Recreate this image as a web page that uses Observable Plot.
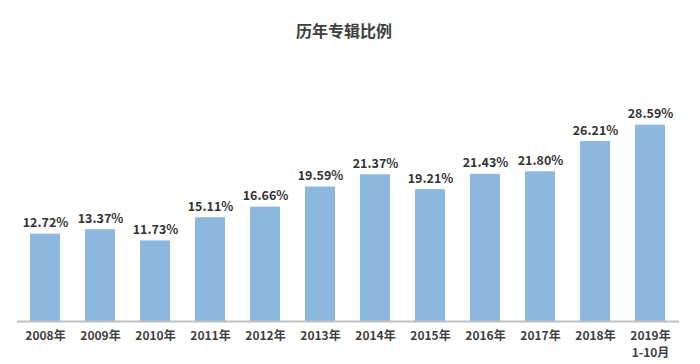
<!DOCTYPE html>
<html>
<head>
<meta charset="utf-8">
<script src="https://cdn.jsdelivr.net/npm/d3@7"></script>
<script src="https://cdn.jsdelivr.net/npm/@observablehq/plot@0.6"></script>
<style>
  html, body { margin: 0; padding: 0; background: #fff; }
  #title { height: 60px; box-sizing: border-box; padding-top: 19px; text-align: center; font-family: "Noto Sans CJK SC", "Noto Sans", sans-serif; font-weight: bold; font-size: 16px; color: #404040; line-height: 22px; padding-right: 12px; }
  #chart svg { display: block; }
</style>
</head>
<body>
<div id="title">历年专辑比例</div>
<div id="chart"></div>
<script>
const years = ["2008年","2009年","2010年","2011年","2012年","2013年","2014年","2015年","2016年","2017年","2018年","2019年\n1-10月"];
const values = [12.72, 13.37, 11.73, 15.11, 16.66, 19.59, 21.37, 19.21, 21.43, 21.80, 26.21, 28.59];
const valueLabels = ["12.72%","13.37%","11.73%","15.11%","16.66%","19.59%","21.37%","19.21%","21.43%","21.80%","26.21%","28.59%"];

const data = years.map((y, i) => ({year: y, value: values[i], label: valueLabels[i]}));
const font = "'Noto Sans CJK SC', 'Noto Sans', sans-serif";

const chart = Plot.plot({
  width: 700,
  height: 304,
  marginTop: 55,
  marginBottom: 43,
  marginLeft: 17,
  marginRight: 21,
  style: {fontFamily: font, background: "#fff"},
  x: {domain: years, paddingInner: 0.45, paddingOuter: 0.23, label: null},
  y: {domain: [0, 30], axis: null},
  marks: [
    Plot.barY(data, {x: "year", y: "value", fill: "#8cb8e0"}),
    Plot.ruleY([0], {stroke: "#bfbfbf", strokeWidth: 2}),
    Plot.text(data, {x: "year", y: "value", text: "label", dy: -11, fontSize: 12.5, fontWeight: "bold", fill: "#333"}),
    Plot.axisX({tickSize: 0, tickPadding: 6, fontSize: 12, fontWeight: "bold", fill: "#404040", label: null, lineHeight: 1.45})
  ]
});
document.getElementById("chart").appendChild(chart);
</script>
</body>
</html>
